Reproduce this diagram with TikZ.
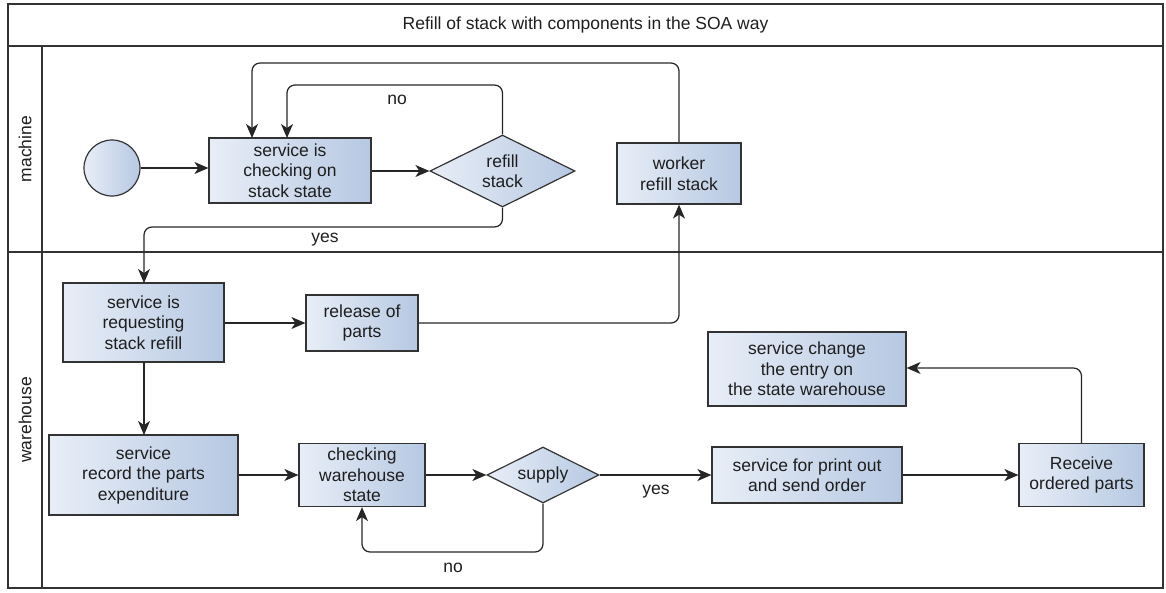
\documentclass[tikz,border=0pt]{standalone}
\usepackage{fontspec}
\setmainfont{Liberation Sans}
\usetikzlibrary{arrows.meta,shapes.geometric}
\definecolor{boxlight}{HTML}{E8EEF7}
\definecolor{boxdark}{HTML}{B6C8E2}
\definecolor{edgegray}{HTML}{333333}
\definecolor{inkgray}{HTML}{1E1E1E}
\tikzset{
  every node/.style={font=\fontsize{17.5}{20.5}\selectfont, text=inkgray},
  task/.style={draw=edgegray, line width=1.2pt, left color=boxlight, right color=boxdark,
    rectangle, align=center, inner sep=0pt},
  gate/.style={draw=edgegray, line width=1.2pt, left color=boxlight, right color=boxdark,
    diamond, align=center, inner sep=0pt, aspect=2},
  startev/.style={draw=edgegray, line width=1.2pt, left color=boxlight, right color=boxdark,
    circle, inner sep=0pt, minimum size=56pt},
  flow/.style={draw=black!85, line width=1.25pt, rounded corners=8pt,
    -{Stealth[length=14pt,width=12pt,inset=4pt]}},
  frameline/.style={draw=edgegray, line width=1.3pt},
  lanelabel/.style={rotate=90, anchor=center},
}
\begin{document}
\begin{tikzpicture}[x=1pt,y=-1pt]
  \useasboundingbox (0,0) rectangle (1166,592);

  % pool frame, title band and lanes
  \draw[frameline] (8,4) rectangle (1163,588);
  \draw[frameline] (8,46) -- (1163,46);
  \draw[frameline] (42,46) -- (42,588);
  \draw[frameline] (8,252) -- (1163,252);
  \node (title) at (585.5,25) {Refill of stack with components in the SOA way};
  \node[lanelabel] (lanemachine) at (25,149) {machine};
  \node[lanelabel] (lanewarehouse) at (25,420) {warehouse};

  % machine lane
  \node[startev] (start) at (112,168) {};
  \node[task, minimum width=162pt, minimum height=65pt] (check) at (290,170.5)
    {service is\\checking on\\stack state};
  \node[gate, minimum width=145pt, minimum height=72pt] (refill) at (502.5,171)
    {refill\\stack};
  \node[task, minimum width=124pt, minimum height=61pt] (worker) at (679,173.5)
    {worker\\refill stack};

  % warehouse lane
  \node[task, minimum width=161pt, minimum height=79pt] (request) at (143.5,322.5)
    {service is\\requesting\\stack refill};
  \node[task, minimum width=112pt, minimum height=56pt] (release) at (362,323)
    {release of\\parts};
  \node[task, minimum width=189pt, minimum height=80pt] (record) at (143.5,475)
    {service\\record the parts\\expenditure};
  \node[task, minimum width=126pt, minimum height=63pt] (checkwh) at (362,475)
    {checking\\warehouse\\state};
  \node[gate, minimum width=112pt, minimum height=56pt] (supply) at (543,475)
    {supply};
  \node[task, minimum width=190pt, minimum height=56pt] (print) at (807,475)
    {service for print out\\and send order};
  \node[task, minimum width=125pt, minimum height=63pt] (receive) at (1081.5,475)
    {Receive\\ordered parts};
  \node[task, minimum width=198pt, minimum height=74pt] (entry) at (807,369)
    {service change\\the entry on\\the state warehouse};

  % connectors in the machine lane
  \draw[flow] (start.east) -- (start.east -| check.west);
  \draw[flow] (check.east |- refill.west) -- (refill.west);
  \draw[flow] (refill.north) -- (502.5,85) -- (287,85) -- (287,138);
  \node (lblno1) at (397,100) {no};
  \draw[flow] (worker.north) -- (679,63) -- (252,63) -- (252,138);
  \draw[flow] (refill.south) -- (502.5,227) -- (144,227) -- (144,283);
  \node (lblyes1) at (325,240) {yes};

  % connectors in the warehouse lane
  \draw[flow] (request.east |- release.west) -- (release.west);
  \draw[flow] (release.east) -- (679,323) -- (worker.south);
  \draw[flow] (144,362) -- (144,435);
  \draw[flow] (record.east) -- (record.east -| checkwh.west);
  \draw[flow] (checkwh.east) -- (supply.west);
  \draw[flow] (supply.east) -- (print.west);
  \node (lblyes2) at (656,492) {yes};
  \draw[flow] (print.east) -- (receive.west);
  \draw[flow] (receive.north) -- (1081.5,368) -- (entry.east |- 0,368);
  \draw[flow] (supply.south) -- (543,552) -- (362,552) -- (checkwh.south);
  \node (lblno2) at (453,568) {no};
\end{tikzpicture}
\end{document}
